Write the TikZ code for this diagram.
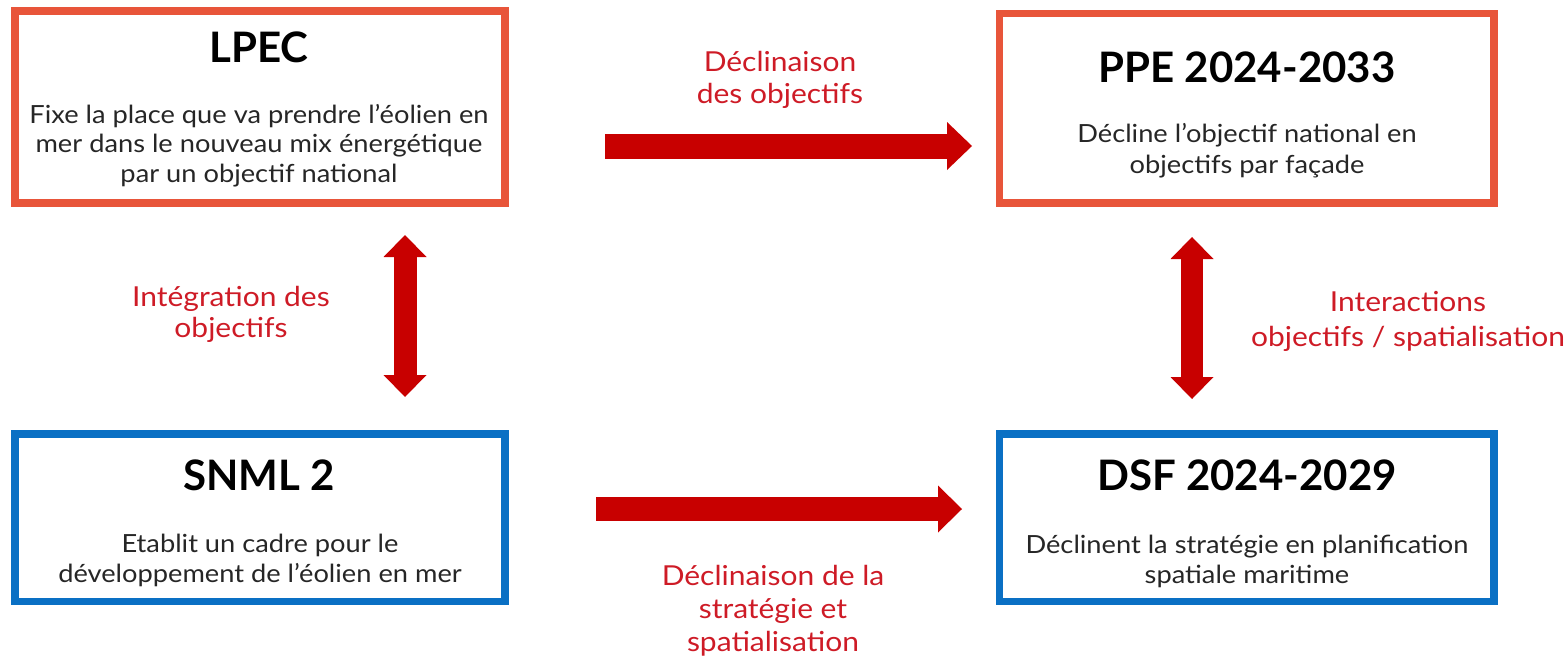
\documentclass[tikz,border=0pt]{standalone}
\usepackage{fontspec}
\usetikzlibrary{arrows.meta}
\newfontfamily\bodyf{Lato}[FakeStretch=1.09]
\newfontfamily\titlef{Lato}
\definecolor{orng}{HTML}{E8553A}
\definecolor{blu}{HTML}{0A70C4}
\definecolor{arrred}{HTML}{C80000}
\definecolor{lblred}{HTML}{CE1B26}
\newcommand\stk[2]{\vtop{\baselineskip=#1\lineskiplimit=-50pt\halign{\hfil##\hfil\cr#2\crcr}}}
\tikzset{
  obox/.style={draw=orng, line width=7.5pt, fill=white, inner sep=0pt},
  bbox/.style={draw=blu, line width=7.5pt, fill=white, inner sep=0pt},
  ttl/.style={inner sep=0pt, anchor=base, font=\titlef\bfseries\fontsize{42}{48}\selectfont},
  body/.style={inner sep=0pt, anchor=base, text=black!85, font=\bodyf\fontsize{25}{30}\selectfont},
  lbl/.style={inner sep=0pt, anchor=base, text=lblred, font=\bodyf\fontsize{27.5}{33}\selectfont},
  fat/.style={draw=arrred, line width=#1pt},
}
\begin{document}
\begin{tikzpicture}[x=1pt,y=-1pt]
\useasboundingbox (0,0) rectangle (1566,661);
% boxes
\node[obox, minimum width=490pt, minimum height=192pt] (lpec) at (260,107) {};
\node[obox, minimum width=494.5pt, minimum height=189.5pt] (ppe) at (1246.75,108.25) {};
\node[bbox, minimum width=490pt, minimum height=167.5pt] (snml) at (260,517.75) {};
\node[bbox, minimum width=494.5pt, minimum height=167.5pt] (dsf) at (1246.75,517.75) {};
% titles
\node[ttl] (lpect) at (259,63) {LPEC};
\node[ttl] (ppet) at (1247,82) {PPE 2024-2033};
\node[ttl] (snmlt) at (259,490) {SNML 2};
\node[ttl] (dsft) at (1247,490) {DSF 2024-2029};
% bodies
\node[body] (lpecb) at (259,123) {\stk{29.5pt}{Fixe la place que va prendre l’éolien en\cr mer dans le nouveau mix énergétique\cr par un objectif national}};
\node[body] (ppeb) at (1247,142) {\stk{31pt}{Décline l’objectif national en\cr objectifs par façade}};
\node[body] (snmlb) at (260,552) {\stk{30pt}{Etablit un cadre pour le\cr développement de l’éolien en mer}};
\node[body] (dsfb) at (1247,553) {\stk{30pt}{Déclinent la stratégie en planification\cr spatiale maritime}};
% arrow end points
\coordinate (a1s) at (605,146);
\coordinate (a1e) at (972,146);
\coordinate (a2s) at (596,509);
\coordinate (a2e) at (962,509);
\coordinate (a3s) at (405,235);
\coordinate (a3e) at (405,397);
\coordinate (a4s) at (1192,237);
\coordinate (a4e) at (1192,399);
% arrows
\draw[fat=25, -{Triangle[length=25pt,width=48pt,line width=0pt]}] (a1s) -- (a1e);
\draw[fat=24, -{Triangle[length=24pt,width=47pt,line width=0pt]}] (a2s) -- (a2e);
\draw[fat=23, {Triangle[length=22pt,width=43pt,line width=0pt]}-{Triangle[length=22pt,width=43pt,line width=0pt]}] (a3s) -- (a3e);
\draw[fat=22, {Triangle[length=22pt,width=43pt,line width=0pt]}-{Triangle[length=22pt,width=43pt,line width=0pt]}] (a4s) -- (a4e);
% labels
\node[lbl] (l1) at (780,72) {\stk{32pt}{Déclinaison\cr des objectifs}};
\node[lbl] (l2) at (231,306) {\stk{31pt}{Intégration des\cr objectifs}};
\node[lbl] (l3) at (1408,311) {\stk{35pt}{Interactions\cr objectifs / spatialisation}};
\node[lbl] (l4) at (773,585) {\stk{33pt}{Déclinaison de la\cr stratégie et\cr spatialisation}};
\end{tikzpicture}
\end{document}
